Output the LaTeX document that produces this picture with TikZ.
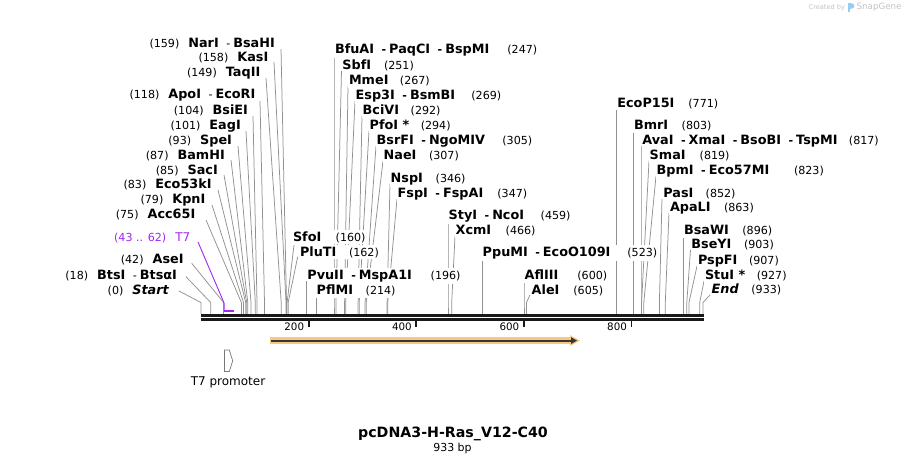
\documentclass[tikz,border=0pt]{standalone}
\usepackage{fontspec}
\setmainfont{DejaVu Sans}
\usetikzlibrary{fit,calc}
\pgfdeclarelayer{bg}\pgfdeclarelayer{mid}
\pgfsetlayers{bg,mid,main}
\definecolor{conn}{RGB}{145,145,145}
\definecolor{tsev}{RGB}{160,40,240}
\definecolor{cdsor}{RGB}{249,199,125}
\definecolor{cdsdark}{RGB}{55,55,55}
\definecolor{axisblk}{RGB}{25,25,25}
\definecolor{wmgray}{RGB}{195,195,195}
\definecolor{wmblue}{RGB}{150,205,240}
\definecolor{promgray}{RGB}{120,120,120}
\newcommand\enz[1]{{\fontsize{12.8}{14}\selectfont\bfseries #1}}
\newcommand\pnum[1]{{\fontsize{11.1}{13}\selectfont #1}}
\newcommand\esep{\hspace{7.5pt}{\fontsize{11.1}{13}\selectfont -}\hspace{3pt}}
\newcommand\cl[3]{\draw[cline] (#1,#2) -- (#3,302.5) -- (#3,314);}
\newcommand\leftlab[4]{\node[llab] (#1) at (#2,#3+4.4) {#4};}
\newcommand\rightlab[6]{%
  \node[rlab] (#1) at (#2,#3+4.4) {\enz{#4}};
  \path let \p1 = (#1.east) in node[rlab] (#1n) at ({max(#5,\x1+10)},#3+4.4) {\pnum{#6}};
  \begin{pgfonlayer}{mid}\node[fit=(#1)(#1n), inner sep=0pt, fill=white] (#1b) {};\end{pgfonlayer}}
\begin{document}
\begin{tikzpicture}[x=1pt,y=-1pt,
  lab/.style={inner xsep=0.5pt, inner ysep=1.5pt, fill=white},
  llab/.style={lab, anchor=base east},
  rlab/.style={lab, anchor=base west},
  cline/.style={draw=conn, line width=0.75pt},
  ticklab/.style={anchor=east, inner sep=0pt, font=\fontsize{10.3}{12}\selectfont}]
\useasboundingbox (0,0) rectangle (906,464);
\begin{pgfonlayer}{bg}
% left connectors
\cl{281}{49}{286.5}
\cl{274}{62}{286}
\cl{266}{78}{281.2}
\cl{260}{101}{264.5}
\cl{253}{116}{257}
\cl{246}{131}{255.3}
\cl{238}{146}{251}
\cl{231}{160}{247.8}
\cl{224}{175}{246.7}
\cl{218}{190}{245.7}
\cl{212}{205}{243.5}
\cl{206}{220}{241.4}
\cl{191.7}{263.3}{223.6}
\cl{186}{276.7}{210.7}
\cl{179}{291}{201}
% middle connectors
\cl{294}{245}{287.1}
\cl{297.7}{256.7}{288.2}
\cl{306.5}{281}{306.5}
\cl{316.1}{296}{316.1}
\cl{334}{56}{334}
\cl{341.5}{71}{336}
\cl{348}{86}{344.6}
\cl{355}{101}{345.7}
\cl{362}{116}{358.1}
\cl{369}{131}{359.2}
\cl{376}{146}{365.1}
\cl{383}{161}{366.2}
\cl{390}{184}{387.1}
\cl{397}{199}{387.7}
\cl{448}{221}{448}
\cl{455}{236}{451.7}
\cl{482.4}{258}{482.4}
\cl{524}{281}{524}
\cl{530}{295}{526.5}
% right connectors
\cl{616.3}{109.5}{616.3}
\cl{633.2}{131}{633.2}
\cl{641}{146}{641}
\cl{649}{161}{641.6}
\cl{656}{176}{643.8}
\cl{662}{199}{659.4}
\cl{669}{213}{665.3}
\cl{683.2}{236}{683.2}
\cl{690.5}{250}{686.8}
\cl{697}{266}{689}
\cl{704}{281}{699.7}
\cl{710}{295}{702.9}
% T7 feature
\draw[tsev, line width=0.9pt] (198,242) -- (224.2,303.3) -- (224.2,310);
\draw[tsev, line width=2pt] (224.2,310.6) -- (234.4,310.6);
\end{pgfonlayer}
% left labels
\leftlab{NarI}{275.5}{43}{\pnum{(159)}\hspace{9pt}\enz{NarI}\esep\enz{BsaHI}}
\leftlab{KasI}{269}{57}{\pnum{(158)}\hspace{9pt}\enz{KasI}}
\leftlab{TaqII}{261}{72}{\pnum{(149)}\hspace{9pt}\enz{TaqII}}
\leftlab{ApoI}{256}{94.5}{\pnum{(118)}\hspace{9pt}\enz{ApoI}\esep\enz{EcoRI}}
\leftlab{BsiEI}{248.7}{110}{\pnum{(104)}\hspace{9pt}\enz{BsiEI}}
\leftlab{EagI}{241.5}{125}{\pnum{(101)}\hspace{9pt}\enz{EagI}}
\leftlab{SpeI}{232.7}{140}{\pnum{(93)}\hspace{9pt}\enz{SpeI}}
\leftlab{BamHI}{225.5}{155}{\pnum{(87)}\hspace{9pt}\enz{BamHI}}
\leftlab{SacI}{218.5}{170}{\pnum{(85)}\hspace{9pt}\enz{SacI}}
\leftlab{Eco53kI}{212.3}{184.5}{\pnum{(83)}\hspace{9pt}\enz{Eco53kI}}
\leftlab{KpnI}{206}{199.5}{\pnum{(79)}\hspace{9pt}\enz{KpnI}}
\leftlab{Acc65I}{196}{214.5}{\pnum{(75)}\hspace{9pt}\enz{Acc65I}}
\node[llab, text=tsev] (T7) at (191,237+4.4) {\pnum{(43 .. 62)}\hspace{9pt}{\fontsize{12}{14}\selectfont T7}};
\leftlab{AseI}{184.3}{259.5}{\pnum{(42)}\hspace{9pt}\enz{AseI}}
\leftlab{BtsI}{177.7}{275}{\pnum{(18)}\hspace{9pt}\enz{BtsI}\esep\enz{BtsαI}}
\leftlab{Start}{169.5}{290}{\pnum{(0)}\hspace{9pt}\enz{\itshape Start}}
% middle labels
\rightlab{SfoI}{292.3}{236.7}{SfoI}{335}{(160)}
\rightlab{PluTI}{299.3}{251.7}{PluTI}{348.3}{(162)}
\rightlab{PvuII}{306.7}{275}{PvuII\esep MspA1I}{430}{(196)}
\rightlab{PflMI}{316}{290}{PflMI}{365}{(214)}
\rightlab{BfuAI}{334.3}{49.5}{BfuAI\esep PaqCI\esep BspMI}{506.7}{(247)}
\rightlab{SbfI}{341.7}{65.5}{SbfI}{383.3}{(251)}
\rightlab{MmeI}{348.3}{80}{MmeI}{399}{(267)}
\rightlab{Esp3I}{355}{95}{Esp3I\esep BsmBI}{470.7}{(269)}
\rightlab{BciVI}{362}{110}{BciVI}{410}{(292)}
\rightlab{PfoI}{369}{125}{PfoI *}{418.3}{(294)}
\rightlab{BsrFI}{376}{140}{BsrFI\esep NgoMIV}{501.7}{(305)}
\rightlab{NaeI}{383}{155}{NaeI}{428.3}{(307)}
\rightlab{NspI}{390}{178}{NspI}{435}{(346)}
\rightlab{FspI}{397}{193}{FspI\esep FspAI}{496.7}{(347)}
\rightlab{StyI}{448}{215}{StyI\esep NcoI}{540}{(459)}
\rightlab{XcmI}{455}{230}{XcmI}{505}{(466)}
\rightlab{PpuMI}{482}{252}{PpuMI\esep EcoO109I}{626.7}{(523)}
\rightlab{AflIII}{524}{275}{AflIII}{576.7}{(600)}
\rightlab{AleI}{531}{290}{AleI}{572.7}{(605)}
% right labels
\rightlab{EcoP15I}{616.7}{103}{EcoP15I}{687.7}{(771)}
\rightlab{BmrI}{633.3}{125}{BmrI}{681}{(803)}
\rightlab{AvaI}{641.7}{140}{AvaI\esep XmaI\esep BsoBI\esep TspMI}{806}{(817)}
\rightlab{SmaI}{649}{155}{SmaI}{699}{(819)}
\rightlab{BpmI}{656}{170}{BpmI\esep Eco57MI}{793.3}{(823)}
\rightlab{PasI}{662.7}{193}{PasI}{705}{(852)}
\rightlab{ApaLI}{669.3}{206.7}{ApaLI}{723.3}{(863)}
\rightlab{BsaWI}{683.3}{230}{BsaWI}{741.7}{(896)}
\rightlab{BseYI}{690.7}{244.3}{BseYI}{743.3}{(903)}
\rightlab{PspFI}{697.3}{260}{PspFI}{748.3}{(907)}
\rightlab{StuI}{704.3}{275}{StuI *}{755.7}{(927)}
\rightlab{End}{711}{289.3}{\itshape End}{750.7}{(933)}
% sequence axis
\draw[axisblk, line width=2.6pt] (201,315.2) -- (704,315.2);
\draw[axisblk, line width=2.6pt] (201,319.6) -- (704,319.6);
\foreach \p/\x in {200/308.6,400/416.2,600/523.8,800/631.4}{
  \draw[axisblk, line width=1.8pt] (\x,320) -- (\x,327);
  \node[ticklab] (t\p) at (\x-4.3,326.7) {\p};
}
% CDS arrow
\draw[cdsor, line width=6.4pt] (270,340.6) -- (572,340.6);
\fill[cdsor] (570,335.2) -- (580,340.6) -- (570,346) -- cycle;
\draw[cdsdark, line width=1.8pt] (271,340.6) -- (572,340.6);
\fill[cdsdark] (571,337.2) -- (577,340.6) -- (571,344) -- cycle;
% T7 promoter
\draw[promgray, line width=0.7pt] (224.5,350) -- (229.3,350) -- (232.7,360.8) -- (229.3,371.5) -- (224.5,371.5) -- cycle;
\node[inner sep=0pt, font=\fontsize{12}{14}\selectfont] (t7p) at (228,382.5) {T7 promoter};
% title
\node[inner sep=0pt, font=\fontsize{14.2}{16}\selectfont\bfseries] (title) at (453,434) {pcDNA3-H-Ras\_V12-C40};
\node[inner sep=0pt, font=\fontsize{11}{13}\selectfont] (bp) at (452.5,448.5) {933 bp};
% watermark
\node[anchor=west, inner sep=0pt, text=wmgray, font=\fontsize{6.6}{8}\selectfont] (wm1) at (808.5,7.5) {Created by};
\fill[wmblue] (848,3) rectangle (850.3,12);
\fill[wmblue] (850.3,3) .. controls (856,3) and (856,9) .. (850.3,9) -- cycle;
\node[anchor=west, inner sep=0pt, text=wmgray, font=\fontsize{8.7}{10}\selectfont] (wm2) at (856.5,7.5) {SnapGene};
\end{tikzpicture}
\end{document}
